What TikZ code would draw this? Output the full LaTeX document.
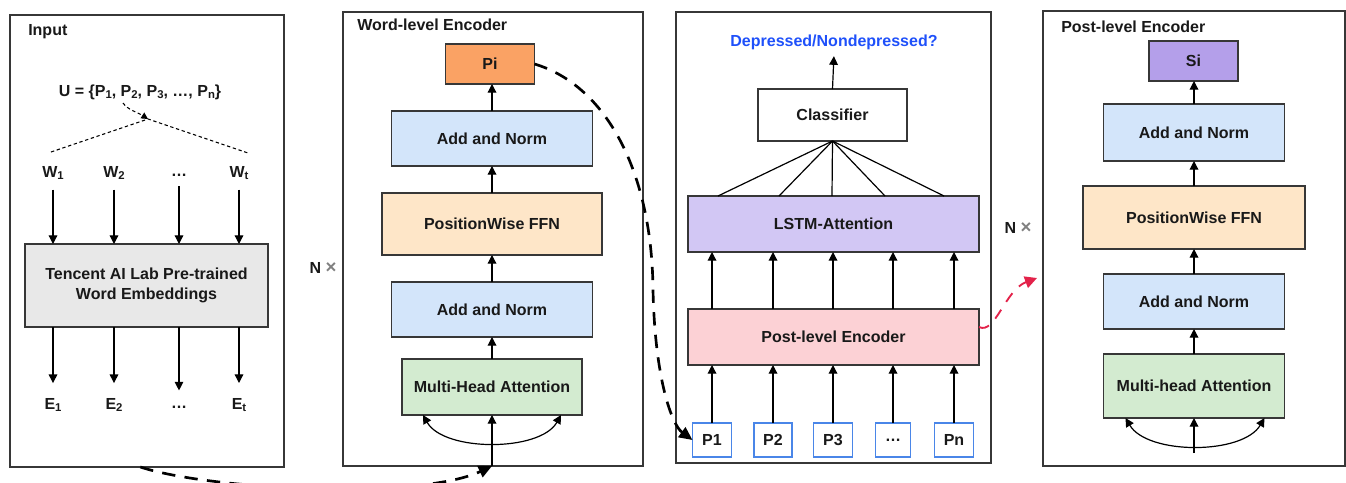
\documentclass[tikz,border=0pt]{standalone}
\usepackage{fontspec}
\setmainfont{Liberation Sans}
\usetikzlibrary{arrows.meta}

\definecolor{annorm}{RGB}{211,229,250}
\definecolor{ffnfill}{RGB}{254,230,200}
\definecolor{mhafill}{RGB}{211,235,208}
\definecolor{pifill}{RGB}{250,162,100}
\definecolor{sifill}{RGB}{180,159,234}
\definecolor{lstmfill}{RGB}{210,199,244}
\definecolor{plefill}{RGB}{252,209,213}
\definecolor{embfill}{RGB}{232,232,232}
\definecolor{pblue}{RGB}{74,134,232}
\definecolor{outblue}{RGB}{30,80,250}
\definecolor{linkred}{RGB}{227,34,74}
\definecolor{edgegray}{RGB}{55,55,55}
\definecolor{inkgray}{RGB}{25,25,25}

% small index set on the baseline
\newcommand{\sbs}[1]{\raisebox{-0.25ex}{\fontsize{8.5}{8.5}\selectfont #1}}
\newcommand{\ntimes}{N {\fontsize{14}{14}\selectfont\textcolor{gray}{×}}}

\tikzset{
  blk/.style 2 args={draw=edgegray, line width=1.1pt, inner sep=0pt, outer sep=0pt,
    minimum width=#1*0.75pt, minimum height=#2*0.75pt, align=center},
  pbox/.style={blk={#1}{34}, draw=pblue, fill=white},
  arr/.style={line width=0.9pt, -{Triangle[length=6.5pt,width=6.5pt]}},
  dbl/.style={line width=0.9pt, {Triangle[length=6.5pt,width=6.5pt]}-{Triangle[length=6.5pt,width=6.5pt]}},
  thinlink/.style={line width=0.8pt, dash pattern=on 2.5pt off 2pt, -{Triangle[length=5pt,width=5pt]}},
  biglink/.style={line width=2pt, dash pattern=on 10pt off 7pt, -{Triangle[length=10pt,width=9pt]}}
}

\begin{document}
\begin{tikzpicture}[x=0.75pt,y=0.75pt,yscale=-1,xscale=1,
  every node/.style={font=\bfseries\fontsize{12}{15}\selectfont, text=inkgray}]
\useasboundingbox (0,0) rectangle (1346,482);

%Shape: Rectangle -- panels
\draw (147,241) node [blk={274}{452}] (inpanel) {};
\draw (493,239) node [blk={300}{454}] (wpanel) {};
\draw (833.5,237.5) node [blk={315}{451}] (cpanel) {};
\draw (1194,238.5) node [blk={302}{455}] (ppanel) {};

% Text Node
\draw (28,32) node [anchor=west, inner sep=0pt] (inlbl) {Input};
\draw (357,25) node [anchor=west, inner sep=0pt] (wlbl) {Word-level Encoder};
\draw (1061,27) node [anchor=west, inner sep=0pt] (plbl) {Post-level Encoder};

%Input: posts, words, embeddings
\draw (140,92) node (uset) {U = \{P\sbs{1}, P\sbs{2}, P\sbs{3}, …, P\sbs{n}\}};
\coordinate (apex) at (148,119);
\coordinate (tl) at (51,152);
\coordinate (tr) at (248,153);
\draw [line width=0.8pt, dash pattern=on 2.5pt off 2pt] (tl) -- (apex) -- (tr);
\draw [thinlink] (123,103) .. controls (128,110) and (137,112) .. (apex);

\draw (53,173) node (w1) {W\sbs{1}};
\draw (114,173) node (w2) {W\sbs{2}};
\draw (179,175) node (w3) {…};
\draw (239,173) node (w4) {W\sbs{t}};

\draw (146.5,285.5) node [blk={243}{83}, fill=embfill] (emb) {Tencent AI Lab Pre-trained\\Word Embeddings};

\draw (53,405) node (e1) {E\sbs{1}};
\draw (114,405) node (e2) {E\sbs{2}};
\draw (179,407) node (e3) {…};
\draw (239,405) node (e4) {E\sbs{t}};

\foreach \n in {1,2,3,4} {
  \draw [arr, shorten <=4pt] (w\n.south) -- (w\n.south |- emb.north);
  \draw [arr, shorten >=8pt] (e\n.north |- emb.south) -- (e\n.north);
}

\draw (323,268) node (nx1) {\ntimes};

%Word-level encoder stack
\draw (490,64) node [blk={89}{40}, fill=pifill] (pi) {Pi};
\draw (492,138.5) node [blk={201}{55}, fill=annorm] (wan1) {Add and Norm};
\draw (492,224) node [blk={220}{62}, fill=ffnfill] (wffn) {PositionWise FFN};
\draw (492,309.5) node [blk={201}{55}, fill=annorm] (wan2) {Add and Norm};
\draw (492,387) node [blk={180}{56}, fill=mhafill] (wmha) {Multi-Head Attention};

\draw [arr] (wmha.north) -- (wan2.south);
\draw [arr] (wan2.north) -- (wffn.south);
\draw [arr] (wffn.north) -- (wan1.south);
\draw [arr] (wan1.north) -- (wan1.north |- pi.south);
\draw [arr] (wmha.south |- wpanel.south) -- (wmha.south);
\draw [dbl] ([xshift=15.75pt]wmha.south west) .. controls +(21,37) and +(-21,37) .. ([xshift=-15.75pt]wmha.south east);

%Classifier side
\draw (834,42) node [text=outblue] (outlbl) {Depressed/Nondepressed?};
\draw (832.5,115) node [blk={149}{52}, fill=white] (clf) {Classifier};
\draw (833.5,224) node [blk={291}{56}, fill=lstmfill] (lstm) {LSTM-Attention};
\draw (833.5,337) node [blk={291}{56}, fill=plefill] (ple) {Post-level Encoder};

\draw [arr, shorten >=1.5pt] (clf.north) -- (outlbl.south);
\foreach \x in {718,779,832,885,944}
  \draw [line width=0.9pt] (clf.south) -- (\x,0 |- lstm.north);

\draw (712,440) node [pbox=39] (p1) {P1};
\draw (773,440) node [pbox=38] (p2) {P2};
\draw (833,440) node [pbox=39] (p3) {P3};
\draw (893,440) node [pbox=35] (pd) {…};
\draw (954,440) node [pbox=39] (pn) {Pn};

\foreach \p in {p1,p2,p3,pd,pn} {
  \draw [arr] (\p.north) -- (\p.north |- ple.south);
  \draw [arr] (\p.north |- ple.north) -- (\p.north |- lstm.south);
}

\draw (1018,228) node (nx2) {\ntimes};

%Post-level encoder stack
\draw (1193.5,61) node [blk={89}{40}, fill=sifill] (si) {Si};
\draw (1194,132.5) node [blk={181}{57}, fill=annorm] (pan1) {Add and Norm};
\draw (1194,217.5) node [blk={222}{63}, fill=ffnfill] (pffn) {PositionWise FFN};
\draw (1194,301.5) node [blk={181}{55}, fill=annorm] (pan2) {Add and Norm};
\draw (1194,386) node [blk={181}{64}, fill=mhafill] (pmha) {Multi-head Attention};

\coordinate (pin) at (1194,453);
\draw [arr] (pmha.north) -- (pan2.south);
\draw [arr] (pan2.north) -- (pffn.south);
\draw [arr] (pffn.north) -- (pan1.south);
\draw [arr] (pan1.north) -- (pan1.north |- si.south);
\draw [arr] (pin) -- (pmha.south);
\draw [dbl] ([xshift=16.5pt]pmha.south west) .. controls +(22,37) and +(-22,37) .. ([xshift=-15pt]pmha.south east);

%Curve Lines -- dashed links between panels
\coordinate (inbot) at ([xshift=-5pt]inpanel.south);
\draw [biglink] (inbot) .. controls (210,490) and (420,500) .. (wmha.south |- wpanel.south);
\draw [biglink] (pi.east) .. controls (605,85) and (652,170) .. (653,290) .. controls (655,380) and (672,425) .. (p1.west);
\coordinate (redtip) at (1037,278);
\draw [linkred, line width=1.4pt, dash pattern=on 8pt off 7pt, -{Triangle[length=9pt,width=9pt]}]
  ([yshift=-7.5pt]ple.east) .. controls (995,335) and (1005,290) .. (redtip);

\end{tikzpicture}
\end{document}
